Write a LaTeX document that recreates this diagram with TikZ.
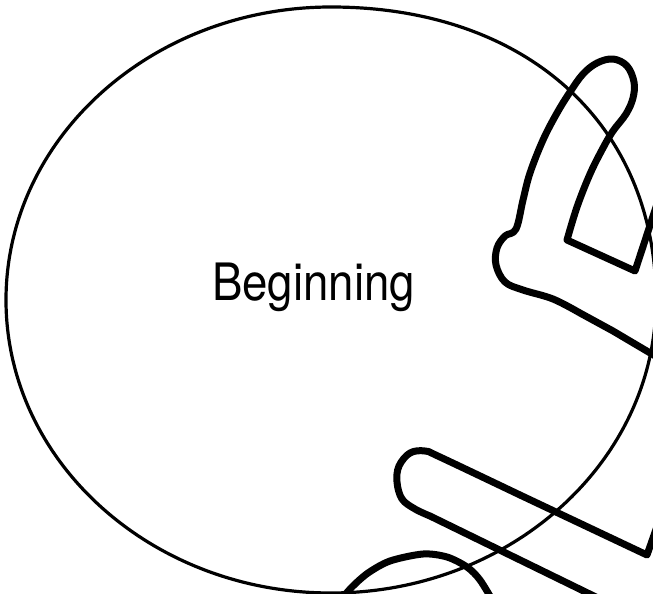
\documentclass[tikz,border=0pt]{standalone}
\usepackage{fontspec}
\setmainfont{TeX Gyre Heros}
\usepackage{tikz}

\begin{document}
\begin{tikzpicture}[
    x=1pt, y=-1pt,
    shell/.style={line width=3.2pt},
    guard/.style={line width=7pt, line join=round, line cap=round}
]
\useasboundingbox (0,0) rectangle (653,594);
\clip (0,0) rectangle (653,594);

% helmet shell, a little fuller at the upper right
\draw[shell] (331,7) .. controls (526,7) and (656,124) .. (656,300)
    .. controls (656,462) and (510,593) .. (331,593)
    .. controls (152,593) and (6,462) .. (6,300)
    .. controls (6,138) and (152,7) .. cycle;

\node[anchor=base, font=\fontsize{45.6}{50}\selectfont] (label) at (313.5,300)
    {\scalebox{1}[1.13]{Beginning}};

% face guard, upper bar
\draw[guard] (662,360) -- (613,331) -- plot[smooth, tension=0.6] coordinates {
    (580,313) (553,299) (523,290) (505,282) (496,265) (497,248)
    (505,236) (516,229) (523,200) (530,173) (543,140) (557,113)
    (570,92) (583,74) (597,63) (613,59) (627,66) (634,82) (633,98)
    (626,114) (613,131) (603,148) (590,174) (577,207) (567,240)}
    -- (635,271) -- (659,198);

% face guard, lower bar
\draw[guard] (660,518) -- (647,555) -- plot[smooth, tension=0.6] coordinates {
    (520,495) (440,457) (425,451) (410,453) (399,466) (397,482)
    (402,499) (415,509) (430,516)} -- (602,600);

% chin strap
\draw[guard] plot[smooth] coordinates {
    (338,603) (352,587) (368,573) (390,561) (423,554) (447,557)
    (467,567) (480,580) (494,603)};

\end{tikzpicture}
\end{document}
